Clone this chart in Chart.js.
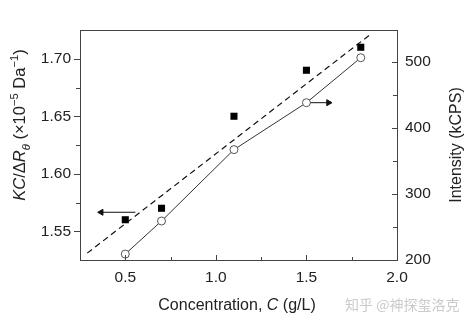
<!DOCTYPE html>
<html>
<head>
<meta charset="utf-8">
<script src="https://cdn.jsdelivr.net/npm/chart.js@4.4.0/dist/chart.umd.min.js"></script>
<style>
  html, body { margin: 0; padding: 0; background: #fff; }
  #wrap { width: 474px; height: 325px; }
</style>
</head>
<body>
<div id="wrap"><canvas id="chart"></canvas></div>
<script>
// Concentration series
const concX = [0.5, 0.7, 1.1, 1.5, 1.8];
const kcValues = [1.56, 1.57, 1.65, 1.69, 1.71];      // KC/ΔRθ, left axis
const intensity = [209, 259, 367, 438, 506];          // kCPS, right axis

// dashed fit line through the squares (end points)
const fitX = [0.29, 1.86];
const fitY = [1.531, 1.722];

// arrows telling which axis each series belongs to
const leftArrowX = [0.556, 0.367];
const leftArrowY = [1.5665, 1.5665];
const rightArrowX = [1.518, 1.622];
const rightArrowY = [438, 438];

// ticks
const xTicks = [0.5, 1.0, 1.5, 2.0];
const xMinor = [0.75, 1.25, 1.75];
const leftTicks = [1.55, 1.60, 1.65, 1.70];
const leftMinor = [1.575, 1.625, 1.675];
const rightTicks = [200, 300, 400, 500];
const rightMinor = [250, 350, 450];

const FONT = '"Liberation Sans", Arial, sans-serif';
const AXIS_COLOR = '#444';
const TEXT_COLOR = '#222';

const pts = (xs, ys) => xs.map((x, i) => ({ x: x, y: ys[i] }));

// draws a run of text pieces (italic / sub / sup) centred on cx, baseline y
function drawRich(ctx, parts, cx, y, size) {
    const fontOf = p => (p.italic ? 'italic ' : '') + (p.sub || p.sup ? size * 0.68 : size) + 'px ' + FONT;
    let total = 0;
    parts.forEach(p => { ctx.font = fontOf(p); total += ctx.measureText(p.t).width; });
    let x = cx - total / 2;
    ctx.textAlign = 'left';
    ctx.textBaseline = 'alphabetic';
    parts.forEach(p => {
        ctx.font = fontOf(p);
        let dy = 0;
        if (p.sub) dy = size * 0.28;
        if (p.sup) dy = -size * 0.42;
        ctx.fillText(p.t, x, y + dy);
        x += ctx.measureText(p.t).width;
    });
}

const framePlugin = {
    id: 'frame',
    afterDraw(chart) {
        const { ctx, chartArea: a, scales } = chart;
        const sx = scales.x, sl = scales.y, sr = scales.y2;
        ctx.save();
        ctx.strokeStyle = AXIS_COLOR;
        ctx.lineWidth = 1;
        ctx.strokeRect(Math.round(a.left) + 0.5, Math.round(a.top) + 0.5,
            Math.round(a.right - a.left), Math.round(a.bottom - a.top));

        ctx.beginPath();
        // bottom axis, ticks inward
        xTicks.forEach(v => { const p = Math.round(sx.getPixelForValue(v)) + 0.5; ctx.moveTo(p, a.bottom); ctx.lineTo(p, a.bottom - 5); });
        xMinor.forEach(v => { const p = Math.round(sx.getPixelForValue(v)) + 0.5; ctx.moveTo(p, a.bottom); ctx.lineTo(p, a.bottom - 3); });
        // left axis, ticks outward
        leftTicks.forEach(v => { const p = Math.round(sl.getPixelForValue(v)) + 0.5; ctx.moveTo(a.left, p); ctx.lineTo(a.left - 6, p); });
        leftMinor.forEach(v => { const p = Math.round(sl.getPixelForValue(v)) + 0.5; ctx.moveTo(a.left, p); ctx.lineTo(a.left - 4, p); });
        // right axis, ticks inward
        rightTicks.forEach(v => { const p = Math.round(sr.getPixelForValue(v)) + 0.5; ctx.moveTo(a.right, p); ctx.lineTo(a.right - 5, p); });
        rightMinor.forEach(v => { const p = Math.round(sr.getPixelForValue(v)) + 0.5; ctx.moveTo(a.right, p); ctx.lineTo(a.right - 4, p); });
        ctx.stroke();

        ctx.fillStyle = TEXT_COLOR;
        // left title
        ctx.save();
        ctx.translate(25, 125);
        ctx.rotate(-Math.PI / 2);
        drawRich(ctx, [
            { t: 'KC', italic: true },
            { t: '/Δ' },
            { t: 'R', italic: true },
            { t: 'θ', italic: true, sub: true },
            { t: ' (×10' },
            { t: '−5', sup: true },
            { t: ' Da' },
            { t: '−1', sup: true },
            { t: ')' }
        ], 0, 0, 16.5);
        ctx.restore();

        // right title
        ctx.save();
        ctx.translate(461, 145);
        ctx.rotate(-Math.PI / 2);
        drawRich(ctx, [{ t: 'Intensity (kCPS)' }], 0, 0, 16);
        ctx.restore();

        // bottom title
        drawRich(ctx, [
            { t: 'Concentration, ' },
            { t: 'C', italic: true },
            { t: ' (g/L)' }
        ], 237, 310, 16);

        ctx.fillStyle = '#cbcbcb';
        ctx.font = '14px "Noto Sans CJK SC", sans-serif';
        ctx.textAlign = 'left';
        ctx.fillText('知乎 @神探玺洛克', 345, 310);
        ctx.restore();
    }
};

const tickFont = { family: FONT, size: 15.5 };

new Chart(document.getElementById('chart'), {
    type: 'scatter',
    data: {
        datasets: [
            {
                label: 'KC/ΔRθ',
                data: pts(concX, kcValues),
                yAxisID: 'y',
                pointStyle: 'rect',
                pointRadius: 5,
                backgroundColor: '#000',
                borderColor: '#000',
                borderWidth: 0,
                order: 1
            },
            {
                label: 'Intensity',
                data: pts(concX, intensity),
                yAxisID: 'y2',
                showLine: true,
                borderColor: '#333',
                borderWidth: 1,
                pointRadius: 4,
                pointBackgroundColor: '#fff',
                pointBorderColor: '#555',
                pointBorderWidth: 1,
                order: 2
            },
            {
                label: 'fit',
                data: pts(fitX, fitY),
                yAxisID: 'y',
                showLine: true,
                borderColor: '#111',
                borderWidth: 1.2,
                borderDash: [6, 4],
                pointRadius: 0,
                order: 3
            },
            {
                label: 'arrow left',
                data: pts(leftArrowX, leftArrowY),
                yAxisID: 'y',
                showLine: true,
                borderColor: '#111',
                borderWidth: 1,
                pointRadius: [0, 3.5],
                pointStyle: 'triangle',
                rotation: -90,
                backgroundColor: '#111',
                order: 4
            },
            {
                label: 'arrow right',
                data: pts(rightArrowX, rightArrowY),
                yAxisID: 'y2',
                showLine: true,
                borderColor: '#111',
                borderWidth: 1,
                pointRadius: [0, 3.5],
                pointStyle: 'triangle',
                rotation: 90,
                backgroundColor: '#111',
                order: 4
            }
        ]
    },
    options: {
        responsive: true,
        maintainAspectRatio: false,
        animation: false,
        layout: { padding: { top: 30, left: 0, right: 0, bottom: 0 } },
        plugins: {
            legend: { display: false },
            tooltip: { enabled: false }
        },
        scales: {
            x: {
                type: 'linear',
                min: 0.25,
                max: 2.0,
                afterBuildTicks: s => { s.ticks = xTicks.map(v => ({ value: v })); },
                afterFit: s => { s.height = 65; },
                grid: { display: false, drawTicks: false },
                border: { display: false },
                ticks: {
                    font: tickFont,
                    color: TEXT_COLOR,
                    padding: 8,
                    maxRotation: 0,
                    callback: v => v.toFixed(1)
                }
            },
            y: {
                position: 'left',
                min: 1.525,
                max: 1.725,
                afterBuildTicks: s => { s.ticks = leftTicks.map(v => ({ value: v })); },
                afterFit: s => { s.width = 80; },
                grid: { display: false, drawTicks: false },
                border: { display: false },
                ticks: {
                    font: tickFont,
                    color: TEXT_COLOR,
                    padding: 9,
                    callback: v => v.toFixed(2)
                }
            },
            y2: {
                position: 'right',
                min: 200,
                max: 548,
                afterBuildTicks: s => { s.ticks = rightTicks.map(v => ({ value: v })); },
                afterFit: s => { s.width = 77; },
                grid: { display: false, drawTicks: false },
                border: { display: false },
                ticks: {
                    font: tickFont,
                    color: TEXT_COLOR,
                    padding: 8,
                    callback: v => String(v)
                }
            }
        }
    },
    plugins: [framePlugin]
});
</script>
</body>
</html>
